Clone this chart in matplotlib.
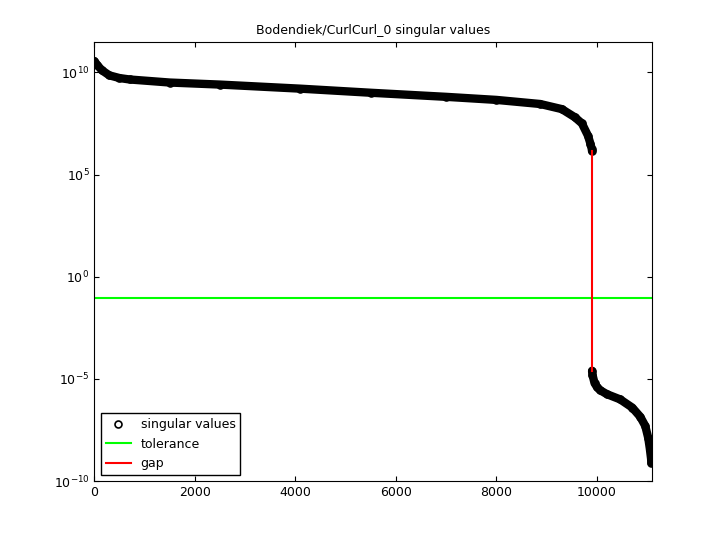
import numpy as np
import matplotlib.pyplot as plt

# singular value profile (index, log10 value)
idx_upper = [1, 60, 150, 300, 500, 700, 1500, 2500, 4100, 5500, 7000, 8000, 8870, 9300, 9560, 9700, 9820, 9870, 9895, 9900]
log_upper = [10.55, 10.35, 10.1, 9.85, 9.72, 9.65, 9.5, 9.4, 9.2, 9.0, 8.8, 8.65, 8.45, 8.2, 7.8, 7.5, 6.9, 6.5, 6.25, 6.15]
idx_lower = [9901, 9910, 9950, 10000, 10060, 10200, 10460, 10700, 10860, 10960, 11020, 11050, 11065, 11075, 11080]
log_lower = [-4.6, -4.8, -5.2, -5.4, -5.55, -5.75, -6.0, -6.4, -6.85, -7.3, -7.9, -8.4, -8.7, -8.9, -9.1]
tolerance = 0.093
gap_idx = 9900
n_max = 11100

idx = idx_upper + idx_lower
sv = 10.0 ** np.array(log_upper + log_lower)

fig = plt.figure(figsize=(7.2, 5.4), dpi=100)
ax = fig.add_axes([0.131, 0.109, 0.775, 0.813])

# dense band of circle markers
ax.plot(idx_upper, 10.0 ** np.array(log_upper), '-', color='k', lw=6, solid_capstyle='round')
ax.plot(idx_lower, 10.0 ** np.array(log_lower), '-', color='k', lw=6, solid_capstyle='round')
ax.plot(idx, sv, 'o', mfc='none', mec='k', ms=5, mew=1.2, label='singular values')
ax.axhline(tolerance, color='#00ff00', lw=1.5, label='tolerance')
ax.plot([gap_idx, gap_idx], [10 ** log_upper[-1], 10 ** log_lower[0]], color='r', lw=1.5, label='gap')

ax.set_yscale('log')
ax.set_xlim(0, n_max)
ax.set_ylim(1e-10, 3e11)
ax.set_yticks([1e-10, 1e-5, 1e0, 1e5, 1e10])
ax.minorticks_off()
ax.tick_params(direction='in', top=True, right=True, labelsize=9)
ax.set_title('Bodendiek/CurlCurl_0 singular values', fontsize=9)
ax.legend(loc='lower left', fontsize=9, fancybox=False, edgecolor='k', framealpha=1)

fig.savefig('out.png')
